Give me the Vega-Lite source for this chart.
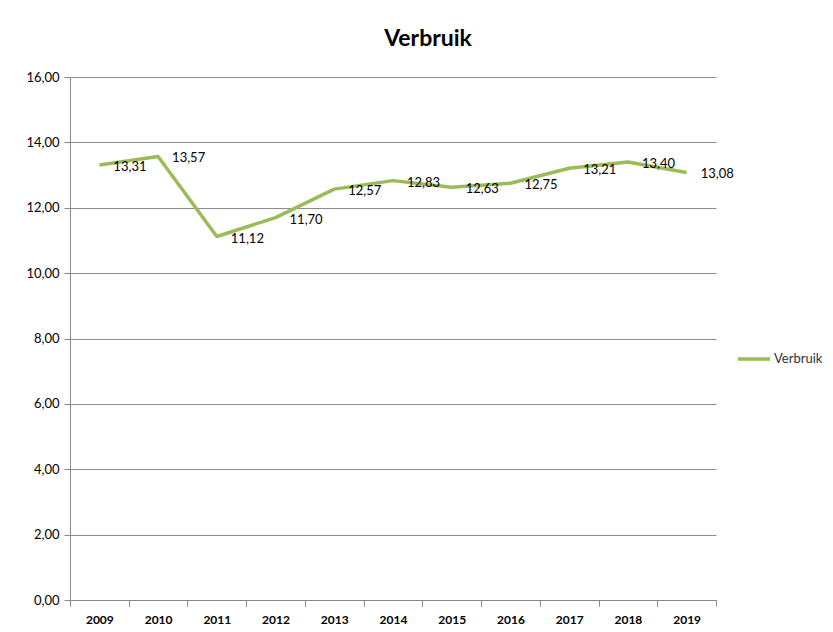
{
  "$schema": "https://vega.github.io/schema/vega-lite/v6.json",
  "width": 646,
  "height": 523,
  "autosize": "none",
  "padding": {"left": 70, "top": 77, "right": 117, "bottom": 32},
  "background": "white",
  "config": {
    "locale": {"number": {"decimal": ",", "thousands": ".", "grouping": [3], "currency": ["€", ""]}},
    "view": {"stroke": null},
    "font": "Lato"
  },
  "title": {
    "text": "Verbruik",
    "fontSize": 23,
    "font": "Lato",
    "fontWeight": "bold",
    "color": "#000000",
    "anchor": "middle",
    "frame": "group",
    "dx": 35,
    "offset": 20
  },
  "data": {
    "values": [
      {"jaar": "2009", "verbruik": 13.31, "serie": "Verbruik"},
      {"jaar": "2010", "verbruik": 13.57, "serie": "Verbruik"},
      {"jaar": "2011", "verbruik": 11.12, "serie": "Verbruik"},
      {"jaar": "2012", "verbruik": 11.70, "serie": "Verbruik"},
      {"jaar": "2013", "verbruik": 12.57, "serie": "Verbruik"},
      {"jaar": "2014", "verbruik": 12.83, "serie": "Verbruik"},
      {"jaar": "2015", "verbruik": 12.63, "serie": "Verbruik"},
      {"jaar": "2016", "verbruik": 12.75, "serie": "Verbruik"},
      {"jaar": "2017", "verbruik": 13.21, "serie": "Verbruik"},
      {"jaar": "2018", "verbruik": 13.40, "serie": "Verbruik"},
      {"jaar": "2019", "verbruik": 13.08, "serie": "Verbruik"}
    ]
  },
  "encoding": {
    "x": {
      "field": "jaar",
      "type": "ordinal",
      "scale": {"type": "band", "paddingInner": 0, "paddingOuter": 0},
      "axis": {
        "title": null,
        "labelAngle": 0,
        "labelFont": "Lato",
        "labelFontWeight": "bold",
        "labelFontSize": 12,
        "labelColor": "#000000",
        "labelPadding": 8,
        "domainColor": "#888888",
        "tickColor": "#888888",
        "tickBand": "extent",
        "tickSize": 6,
        "grid": false
      }
    },
    "y": {
      "field": "verbruik",
      "type": "quantitative",
      "scale": {"domain": [0, 16], "nice": false},
      "axis": {
        "title": null,
        "values": [0, 2, 4, 6, 8, 10, 12, 14, 16],
        "format": ".2f",
        "labelFont": "Lato",
        "labelFontSize": 13,
        "labelColor": "#000000",
        "labelPadding": 5,
        "domainColor": "#888888",
        "tickColor": "#888888",
        "tickSize": 6,
        "grid": true,
        "gridColor": "#8c8c8c",
        "gridWidth": 1
      }
    }
  },
  "layer": [
    {
      "mark": {"type": "line", "strokeWidth": 3.5, "strokeJoin": "round"},
      "encoding": {
        "color": {
          "field": "serie",
          "type": "nominal",
          "scale": {"range": ["#9bbb59"]},
          "legend": {
            "title": null,
            "orient": "none",
            "legendX": 666,
            "legendY": 264,
            "symbolType": "stroke",
            "symbolSize": 1024,
            "symbolStrokeWidth": 3.5,
            "labelFont": "Lato",
            "labelFontSize": 13,
            "labelColor": "#303040",
            "labelOffset": 2
          }
        }
      }
    },
    {
      "mark": {"type": "text", "align": "left", "baseline": "middle", "dx": 14, "dy": 2, "fontSize": 13, "font": "Lato", "color": "#000000"},
      "encoding": {
        "text": {"field": "verbruik", "type": "quantitative", "format": ".2f"}
      }
    }
  ]
}
